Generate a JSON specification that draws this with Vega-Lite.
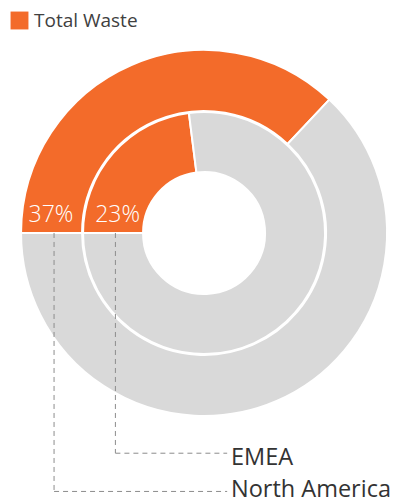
{
  "$schema": "https://vega.github.io/schema/vega-lite/v6.json",
  "width": 407,
  "height": 504,
  "padding": 0,
  "autosize": {"type": "none"},
  "background": "white",
  "config": {"view": {"stroke": null}, "axis": {"disable": true}},
  "data": {
    "values": [
      {"region": "North America", "segment": "Total Waste", "value": 37},
      {"region": "North America", "segment": "Other", "value": 63},
      {"region": "EMEA", "segment": "Total Waste", "value": 23},
      {"region": "EMEA", "segment": "Other", "value": 77}
    ]
  },
  "layer": [
    {
      "transform": [{"filter": "datum.region === 'North America'"}],
      "mark": {"type": "arc", "radius": 183, "radius2": 122, "stroke": "white", "strokeWidth": 2},
      "encoding": {
        "theta": {"field": "value", "type": "quantitative", "stack": true, "scale": {"domain": [0, 100], "range": [4.71238898, 10.99557429]}},
        "order": {"field": "segment", "sort": "descending"},
        "color": {
          "field": "segment", "type": "nominal",
          "scale": {"domain": ["Total Waste", "Other"], "range": ["#F36B2A", "#D9D9D9"]},
          "legend": {"title": null, "values": ["Total Waste"], "orient": "none", "legendX": 10, "legendY": 11, "padding": 0, "symbolType": "square", "symbolSize": 320, "symbolStrokeWidth": 0, "labelFont": "Open Sans", "labelFontSize": 19, "labelColor": "#404040", "labelOffset": 5}
        },
        "x": {"datum": 0, "type": "quantitative", "scale": {"domain": [-112.1, 111.5], "nice": false, "zero": false}},
        "y": {"datum": 0, "type": "quantitative", "scale": {"domain": [-148.9, 128.0], "nice": false, "zero": false}}
      }
    },
    {
      "transform": [{"filter": "datum.region === 'EMEA'"}],
      "mark": {"type": "arc", "radius": 121, "radius2": 61, "stroke": "white", "strokeWidth": 2},
      "encoding": {
        "theta": {"field": "value", "type": "quantitative", "stack": true},
        "order": {"field": "segment", "sort": "descending"},
        "color": {"field": "segment", "type": "nominal"},
        "x": {"datum": 0, "type": "quantitative"},
        "y": {"datum": 0, "type": "quantitative"}
      }
    },
    {
      "transform": [{"filter": "datum.region === 'North America' && datum.segment === 'Total Waste'"}, {"calculate": "datum.value + '%'", "as": "label"}],
      "mark": {"type": "text", "font": "Open Sans", "fontWeight": 300, "fontSize": 23, "color": "white", "align": "center", "baseline": "middle"},
      "encoding": {
        "text": {"field": "label", "type": "nominal"},
        "x": {"datum": -84.1, "type": "quantitative"},
        "y": {"datum": 9.9, "type": "quantitative"}
      }
    },
    {
      "transform": [{"filter": "datum.region === 'EMEA' && datum.segment === 'Total Waste'"}, {"calculate": "datum.value + '%'", "as": "label"}],
      "mark": {"type": "text", "font": "Open Sans", "fontWeight": 300, "fontSize": 23, "color": "white", "align": "center", "baseline": "middle"},
      "encoding": {
        "text": {"field": "label", "type": "nominal"},
        "x": {"datum": -47.5, "type": "quantitative"},
        "y": {"datum": 9.9, "type": "quantitative"}
      }
    },
    {
      "transform": [{"filter": "datum.region === 'North America' && datum.segment === 'Total Waste'"}],
      "mark": {"type": "rule", "color": "#8C8C8C", "strokeWidth": 1, "strokeDash": [5, 4]},
      "encoding": {
        "x": {"datum": -82.4, "type": "quantitative"},
        "y": {"datum": 0, "type": "quantitative"},
        "y2": {"datum": -142.0}
      }
    },
    {
      "transform": [{"filter": "datum.region === 'North America' && datum.segment === 'Total Waste'"}],
      "mark": {"type": "rule", "color": "#8C8C8C", "strokeWidth": 1, "strokeDash": [5, 4]},
      "encoding": {
        "x": {"datum": -82.4, "type": "quantitative"},
        "x2": {"datum": 12.7},
        "y": {"datum": -142.0, "type": "quantitative"}
      }
    },
    {
      "transform": [{"filter": "datum.region === 'EMEA' && datum.segment === 'Total Waste'"}],
      "mark": {"type": "rule", "color": "#8C8C8C", "strokeWidth": 1, "strokeDash": [5, 4]},
      "encoding": {
        "x": {"datum": -48.7, "type": "quantitative"},
        "y": {"datum": 0, "type": "quantitative"},
        "y2": {"datum": -121.0}
      }
    },
    {
      "transform": [{"filter": "datum.region === 'EMEA' && datum.segment === 'Total Waste'"}],
      "mark": {"type": "rule", "color": "#8C8C8C", "strokeWidth": 1, "strokeDash": [5, 4]},
      "encoding": {
        "x": {"datum": -48.7, "type": "quantitative"},
        "x2": {"datum": 12.7},
        "y": {"datum": -121.0, "type": "quantitative"}
      }
    },
    {
      "transform": [{"filter": "datum.region === 'North America' && datum.segment === 'Total Waste'"}],
      "mark": {"type": "text", "font": "Open Sans", "fontSize": 23.5, "color": "#333333", "align": "left", "baseline": "middle"},
      "encoding": {
        "text": {"field": "region", "type": "nominal"},
        "x": {"datum": 14.8, "type": "quantitative"},
        "y": {"datum": -141.2, "type": "quantitative"}
      }
    },
    {
      "transform": [{"filter": "datum.region === 'EMEA' && datum.segment === 'Total Waste'"}],
      "mark": {"type": "text", "font": "Open Sans", "fontSize": 23.5, "color": "#333333", "align": "left", "baseline": "middle"},
      "encoding": {
        "text": {"field": "region", "type": "nominal"},
        "x": {"datum": 14.8, "type": "quantitative"},
        "y": {"datum": -123.4, "type": "quantitative"}
      }
    }
  ]
}
